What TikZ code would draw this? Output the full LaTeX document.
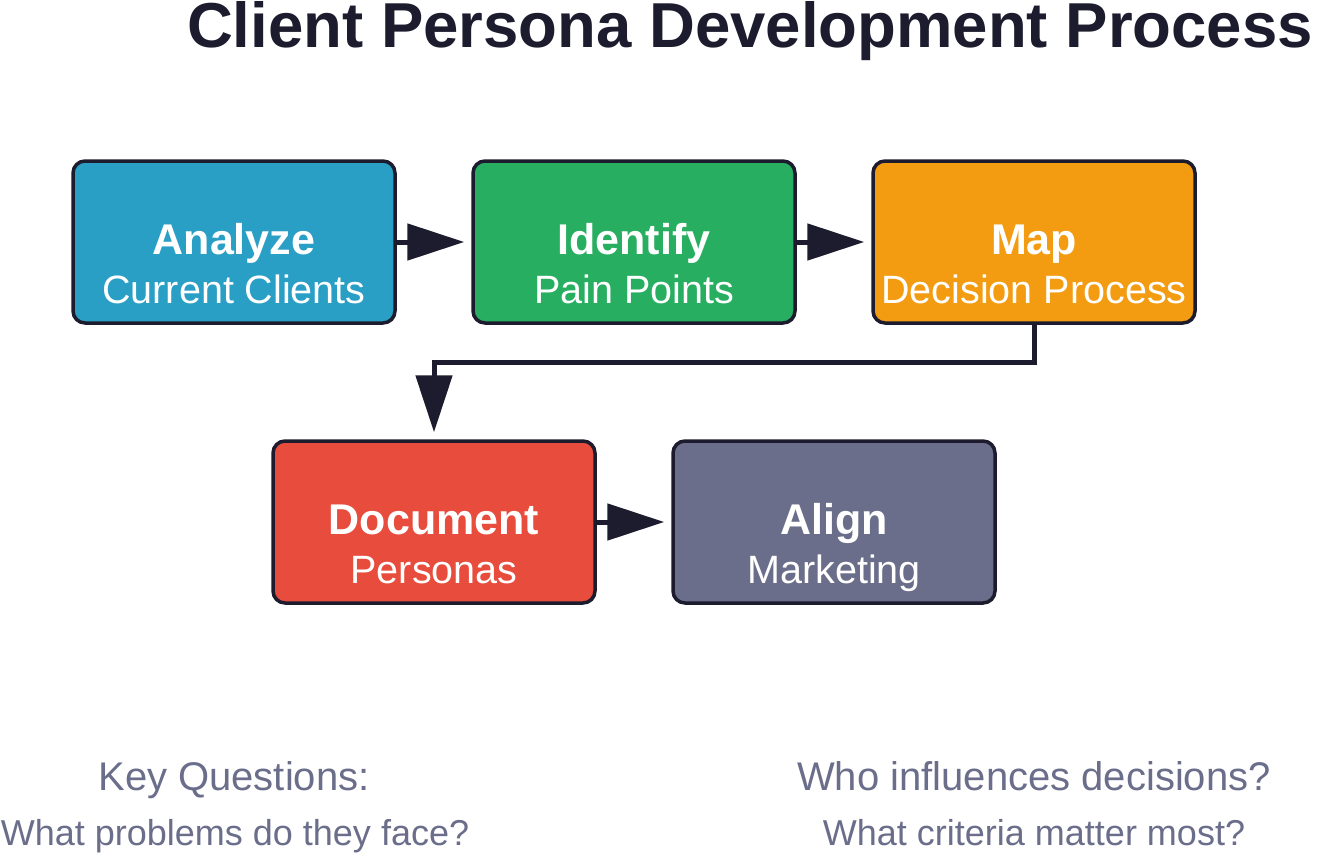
\documentclass[tikz,border=0pt]{standalone}
\usepackage{fontspec}
\setmainfont{Liberation Sans}
\usetikzlibrary{arrows.meta}
\definecolor{ink}{HTML}{1C1C2E}
\definecolor{cblue}{HTML}{2A9FC5}
\definecolor{cgreen}{HTML}{27AE60}
\definecolor{corange}{HTML}{F39C12}
\definecolor{cred}{HTML}{E74C3C}
\definecolor{cgray}{HTML}{6B6E8A}
\definecolor{qgray}{HTML}{6B6E8A}
\tikzset{
  box/.style={draw=ink, line width=3.5pt, rounded corners=12pt, minimum width=322pt, minimum height=162pt, inner sep=0pt},
  hd/.style={anchor=base, text=white, font=\fontsize{43}{48}\selectfont\bfseries, inner sep=0pt},
  sub/.style={anchor=base, text=white, font=\fontsize{39.5}{46}\selectfont, inner sep=0pt},
  conn/.style={draw=ink, line width=5pt, -{Triangle[length=57pt, width=36pt]}, shorten >=7pt},
  qtext/.style={anchor=base, text=qgray, inner sep=0pt}
}
\begin{document}
\begin{tikzpicture}[x=1pt, y=-1pt]
\path[use as bounding box, fill=white] (0,0) rectangle (1319,855);
\node[anchor=base, text=ink, font=\fontsize{63.5}{70}\selectfont\bfseries, inner sep=0pt] (title) at (750,47) {Client Persona Development Process};

\node[box, fill=cblue] (analyze) at (234,242) {};
\node[box, fill=cgreen] (identify) at (634,242) {};
\node[box, fill=corange] (map) at (1034,242) {};
\node[box, fill=cred] (document) at (434,522) {};
\node[box, fill=cgray] (align) at (834,522) {};

\node[hd] (analyze-h) at (234,254) {Analyze};
\node[sub] (analyze-s) at (234,303) {Current Clients};
\node[hd] (identify-h) at (634,254) {Identify};
\node[sub] (identify-s) at (634,303) {Pain Points};
\node[hd] (map-h) at (1034,254) {Map};
\node[sub] (map-s) at (1034,303) {Decision Process};
\node[hd] (document-h) at (434,534) {Document};
\node[sub] (document-s) at (434,583) {Personas};
\node[hd] (align-h) at (834,534) {Align};
\node[sub] (align-s) at (834,583) {Marketing};

\draw[conn] (analyze) -- (identify);
\draw[conn] (identify) -- (map);
\draw[conn] (map.south) -- ++(0,38) -| (document.north);
\draw[conn] (document) -- (align);

\node[qtext, font=\fontsize{40}{46}\selectfont] (q1) at (234,790) {Key Questions:};
\node[qtext, font=\fontsize{36}{42}\selectfont] (q2) at (235,845) {What problems do they face?};
\node[qtext, font=\fontsize{40}{46}\selectfont] (q3) at (1034,790) {Who influences decisions?};
\node[qtext, font=\fontsize{36}{42}\selectfont] (q4) at (1034,845) {What criteria matter most?};
\end{tikzpicture}
\end{document}
